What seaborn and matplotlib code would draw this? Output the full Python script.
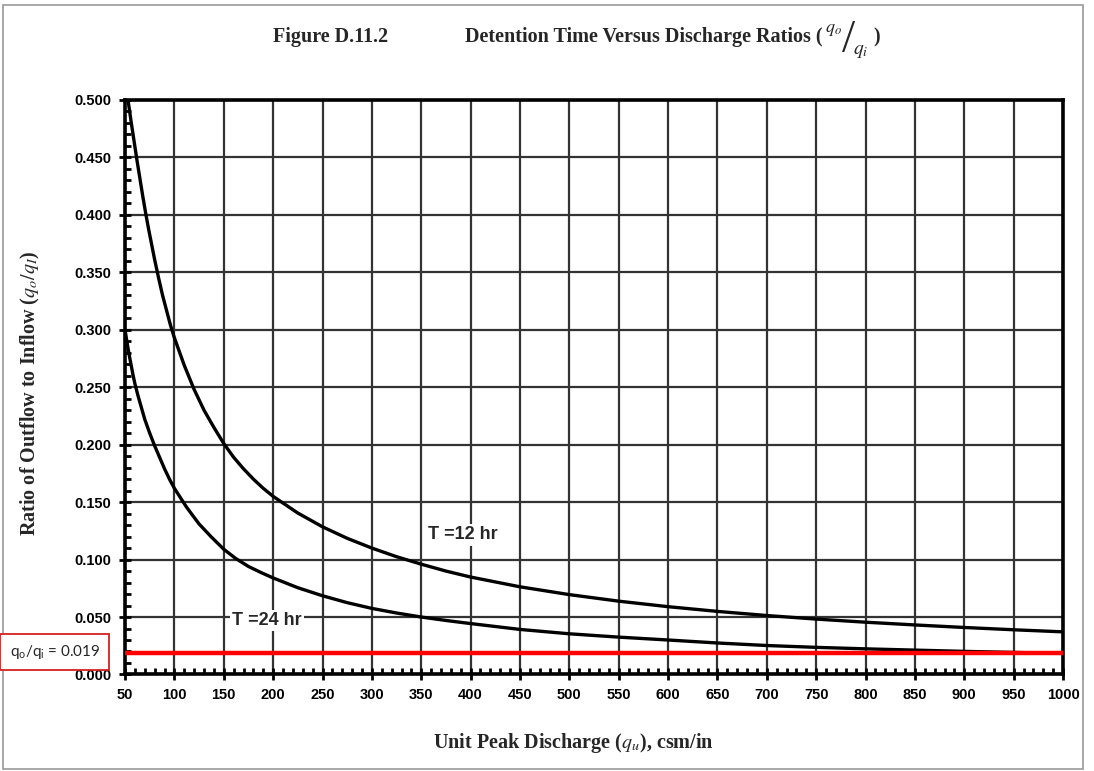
import numpy as np
import pandas as pd
import matplotlib
matplotlib.use("Agg")
import matplotlib.pyplot as plt
from matplotlib.patches import Rectangle
from matplotlib.ticker import MultipleLocator, FormatStrFormatter
import seaborn as sns

# values
qu_12hr = [53, 56, 59, 62, 65, 68, 71, 74, 77, 80, 84, 88, 92, 96, 100, 110, 120, 130,
           140, 150, 160, 170, 180, 190, 200, 225, 250, 275, 300, 325, 350, 375, 400,
           450, 500, 550, 600, 650, 700, 750, 800, 850, 900, 950, 1000]
ratio_12hr = [0.500, 0.482, 0.465, 0.448, 0.432, 0.416, 0.401, 0.387, 0.374, 0.361,
              0.345, 0.330, 0.317, 0.304, 0.293, 0.269, 0.248, 0.230, 0.215, 0.201,
              0.189, 0.179, 0.170, 0.162, 0.155, 0.1405, 0.1285, 0.1185, 0.110, 0.1025,
              0.096, 0.090, 0.0848, 0.0763, 0.0695, 0.0638, 0.059, 0.0549, 0.0513,
              0.0482, 0.0455, 0.0431, 0.0409, 0.0389, 0.0371]

qu_24hr = [50, 52, 54, 56, 58, 60, 63, 66, 70, 75, 80, 85, 90, 95, 100, 106, 112, 118,
           125, 137, 150, 162, 175, 187, 200, 225, 250, 275, 300, 325, 350, 375, 400,
           450, 500, 550, 600, 650, 700, 750, 800, 850, 900, 950, 1000]
ratio_24hr = [0.300, 0.289, 0.279, 0.270, 0.261, 0.253, 0.243, 0.234, 0.222, 0.210,
              0.199, 0.189, 0.179, 0.170, 0.162, 0.154, 0.146, 0.139, 0.131, 0.120,
              0.109, 0.101, 0.094, 0.089, 0.084, 0.0755, 0.0685, 0.0625, 0.0575,
              0.0535, 0.050, 0.047, 0.0443, 0.0392, 0.0354, 0.0325, 0.030, 0.0274,
              0.0252, 0.0236, 0.0223, 0.0212, 0.0201, 0.0192, 0.0183]

target_ratio = 0.019
curve_labels = ["T =12 hr", "T =24 hr"]
x_ticks = list(range(50, 1001, 50))

df = pd.concat([
    pd.DataFrame({"qu": qu_12hr, "ratio": ratio_12hr, "T": curve_labels[0]}),
    pd.DataFrame({"qu": qu_24hr, "ratio": ratio_24hr, "T": curve_labels[1]}),
])

sns.set_style("white")
plt.rcParams["font.family"] = ["Liberation Sans", "DejaVu Sans"]

fig = plt.figure(figsize=(10.94, 7.71), dpi=100)
ax = fig.add_axes([0.1143, 0.1252, 0.8574, 0.7451])

sns.lineplot(data=df, x="qu", y="ratio", units="T", estimator=None, sort=False,
             color="black", linewidth=2.4, ax=ax, zorder=3)
sns.lineplot(x=[50, 1000], y=[target_ratio, target_ratio], color="#ff0000",
             linewidth=3.2, ax=ax, zorder=4)

ax.set_xlim(50, 1000)
ax.set_ylim(0, 0.5)
ax.set_xticks(x_ticks)
ax.xaxis.set_minor_locator(MultipleLocator(10))
ax.yaxis.set_major_locator(MultipleLocator(0.05))
ax.yaxis.set_minor_locator(MultipleLocator(0.01))
ax.yaxis.set_major_formatter(FormatStrFormatter("%.3f"))
ax.grid(True, which="major", color="#333333", linewidth=1.6)
ax.set_axisbelow(True)
for s in ax.spines.values():
    s.set_visible(True)
    s.set_color("black")
    s.set_linewidth(2.6)
ax.tick_params(which="major", direction="inout", length=8, width=2, colors="black",
               labelsize=10.5, pad=6, left=True, bottom=True)
ax.tick_params(which="minor", direction="in", length=4, width=2, colors="black",
               left=True, bottom=True)
for lab in ax.get_xticklabels() + ax.get_yticklabels():
    lab.set_fontweight("bold")

ax.set_xlabel("")
ax.set_ylabel("")

# curve labels with white background
ax.text(392, 0.1215, curve_labels[0], fontsize=13, fontweight="bold", ha="center",
        va="center", zorder=5,
        bbox=dict(facecolor="white", edgecolor="none", pad=1.5))
ax.text(194, 0.0468, curve_labels[1], fontsize=13, fontweight="bold", ha="center",
        va="center", zorder=5,
        bbox=dict(facecolor="white", edgecolor="none", pad=1.5))

# titles and axis labels (serif, like the scanned figure)
serif = ["Liberation Serif", "DejaVu Serif"]
fig.text(0.3026, 0.952, "Figure D.11.2", family=serif, fontsize=14.5, fontweight="bold",
         ha="center", va="center")
t = fig.text(0.425, 0.952, "Detention Time Versus Discharge Ratios (", family=serif,
             fontsize=14.5, fontweight="bold", ha="left", va="center")
fig.canvas.draw()
x_end = fig.transFigure.inverted().transform((t.get_window_extent().x1, 0))[0]
fig.text(x_end + 0.002, 0.962, r"$q_o$", family=serif, fontsize=13, ha="left",
         va="center", math_fontfamily="stix")
fig.text(x_end + 0.0175, 0.947, "/", family=serif, fontsize=34, ha="left", va="center")
fig.text(x_end + 0.028, 0.933, r"$q_i$", family=serif, fontsize=14, ha="left",
         va="center", math_fontfamily="stix")
fig.text(x_end + 0.046, 0.952, ")", family=serif, fontsize=14.5, fontweight="bold",
         ha="left", va="center")

fig.text(0.524, 0.036, r"Unit Peak Discharge ($q_u$), csm/in", family=serif,
         fontsize=14.5, fontweight="bold", ha="center", va="center",
         math_fontfamily="stix")
fig.text(0.028, 0.49, r"Ratio of Outflow to Inflow ($q_o$/$q_I$)", family=serif,
         fontsize=14.5, fontweight="bold", ha="center", va="center", rotation=90,
         math_fontfamily="stix")

# outer frame
fig.patches.append(Rectangle((0.003, 0.003), 0.987, 0.99, transform=fig.transFigure,
                             fill=False, edgecolor="#9a9a9a", linewidth=1.2))

# annotation box
fig.text(0.050, 0.1545, r"$\mathregular{q_o/q_i}$ = 0.019", family=["Lato", "DejaVu Sans"],
         fontsize=11, ha="center", va="center",
         bbox=dict(boxstyle="square,pad=0.6", facecolor="white", edgecolor="#d42020",
                   linewidth=1.3))

fig.savefig("out.png", dpi=100)
